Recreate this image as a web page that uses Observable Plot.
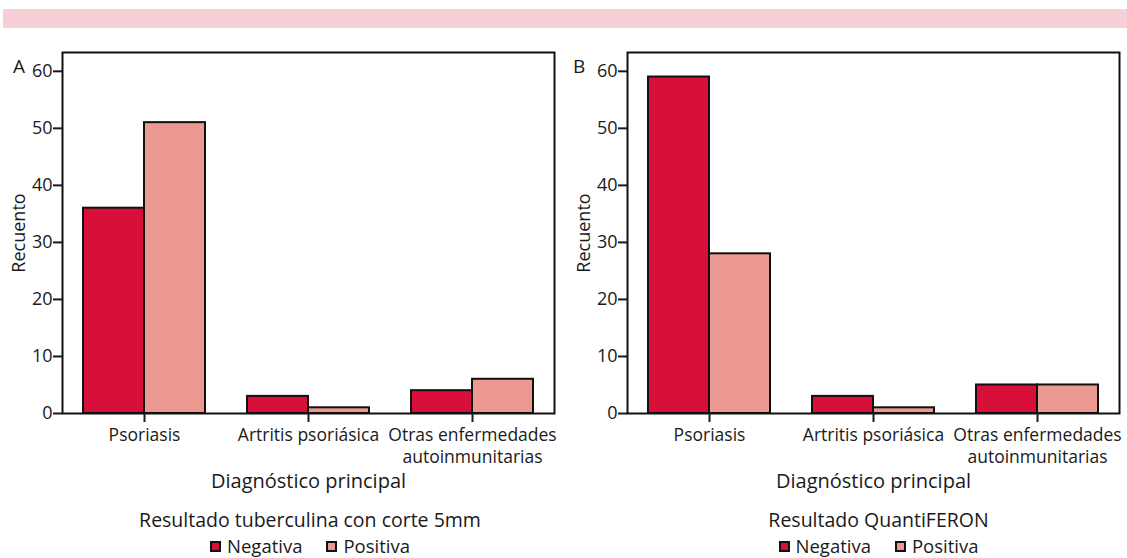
<!DOCTYPE html>
<html>
<head>
<meta charset="utf-8">
<script src="https://cdn.jsdelivr.net/npm/d3@7"></script>
<script src="https://cdn.jsdelivr.net/npm/@observablehq/plot@0.6"></script>
<style>
  html, body { margin: 0; padding: 0; background: #fff; }
  #root { position: relative; width: 1127px; height: 558px; overflow: hidden; font-family: "Open Sans", sans-serif; color: #1a1a1a; }
  .band { position: absolute; left: 3px; top: 9px; width: 1124px; height: 19px; background: #f7d0d7; }
  .panel { position: absolute; top: 40px; }
  .tag { position: absolute; top: 53px; font-size: 19px; }
  .legend { position: absolute; top: 507px; text-align: center; }
  .legend .ttl { line-height: 26px; font-size: 19.5px; }
  .legend .items { line-height: 24px; margin-top: 1px; font-size: 18.5px; white-space: nowrap; }
  .legend .item { display: inline-block; margin: 0 12px; }
  .legend .sw { display: inline-block; width: 7px; height: 7px; border: 2px solid #111; margin-right: 6px; vertical-align: 1px; }
</style>
</head>
<body>
<div id="root">
  <div class="band"></div>
</div>
<script>
// ---- data ----
const diagnoses = ["Psoriasis", "Artritis psoriásica", "Otras enfermedades\nautoinmunitarias"];
const results = ["Negativa", "Positiva"];
const colors = ["#d81039", "#ec9991"];
const yTicks = [0, 10, 20, 30, 40, 50, 60];

// Panel A: Resultado tuberculina con corte 5mm
const tuberculinaNegativa = [36, 3, 4];
const tuberculinaPositiva = [51, 1, 6];
// Panel B: Resultado QuantiFERON
const quantiferonNegativa = [59, 3, 5];
const quantiferonPositiva = [28, 1, 5];

const panels = [
  {tag: "A", title: "Resultado tuberculina con corte 5mm", neg: tuberculinaNegativa, pos: tuberculinaPositiva,
   left: 0, width: 560, marginRight: 12, fxRange: [62, 554]},
  {tag: "B", title: "Resultado QuantiFERON", neg: quantiferonNegativa, pos: quantiferonPositiva,
   left: 560, width: 567, marginRight: 2, fxRange: [67, 559]}
];

const root = document.getElementById("root");
const marginLeft = 72;

for (const p of panels) {
  const data = [];
  diagnoses.forEach((d, i) => {
    data.push({diag: d, result: results[0], count: p.neg[i]});
    data.push({diag: d, result: results[1], count: p.pos[i]});
  });
  const chart = Plot.plot({
    width: p.width,
    height: 455,
    marginLeft,
    marginRight: p.marginRight,
    marginTop: 12,
    marginBottom: 82,
    style: {fontFamily: "Open Sans, sans-serif", fontSize: "18px", color: "#1a1a1a", background: "transparent", overflow: "visible"},
    fx: {domain: diagnoses, range: p.fxRange, padding: 0, label: null},
    x: {domain: results, paddingInner: 0, paddingOuter: 0.323, axis: null},
    y: {domain: [0, 63.3], axis: null},
    color: {domain: results, range: colors},
    marks: [
      Plot.barY(data, {fx: "diag", x: "result", y: "count", fill: "result", stroke: "#111", strokeWidth: 2}),
      Plot.frame({facet: "super", stroke: "#111", strokeWidth: 2}),
      Plot.axisY({ticks: yTicks, tickSize: 9, tickPadding: 1, strokeWidth: 2, fontSize: 18, label: "Recuento", labelAnchor: "center", labelArrow: "none", labelOffset: 50}),
      Plot.axisFx({anchor: "bottom", tickSize: 9, tickPadding: 3, strokeWidth: 2, fontSize: 17.5, lineHeight: 1.25, label: null}),
      Plot.axisFx({anchor: "bottom", ticks: [], tickSize: 0, fontSize: 20, label: "Diagnóstico principal", labelAnchor: "center", labelArrow: "none", labelOffset: 74})
    ]
  });
  const wrap = document.createElement("div");
  wrap.className = "panel";
  wrap.style.left = p.left + "px";
  wrap.appendChild(chart);
  root.appendChild(wrap);

  const tag = document.createElement("div");
  tag.className = "tag";
  tag.style.left = (p.left + 13) + "px";
  tag.textContent = p.tag;
  root.appendChild(tag);

  const legend = document.createElement("div");
  legend.className = "legend";
  legend.style.left = (p.left + marginLeft) + "px";
  legend.style.width = (p.width - marginLeft - p.marginRight) + "px";
  const ttl = document.createElement("div");
  ttl.className = "ttl";
  ttl.textContent = p.title;
  legend.appendChild(ttl);
  const items = document.createElement("div");
  items.className = "items";
  results.forEach((r, i) => {
    const it = document.createElement("span");
    it.className = "item";
    const sw = document.createElement("span");
    sw.className = "sw";
    sw.style.background = colors[i];
    it.appendChild(sw);
    it.appendChild(document.createTextNode(r));
    items.appendChild(it);
  });
  legend.appendChild(items);
  root.appendChild(legend);
}
</script>
</body>
</html>
